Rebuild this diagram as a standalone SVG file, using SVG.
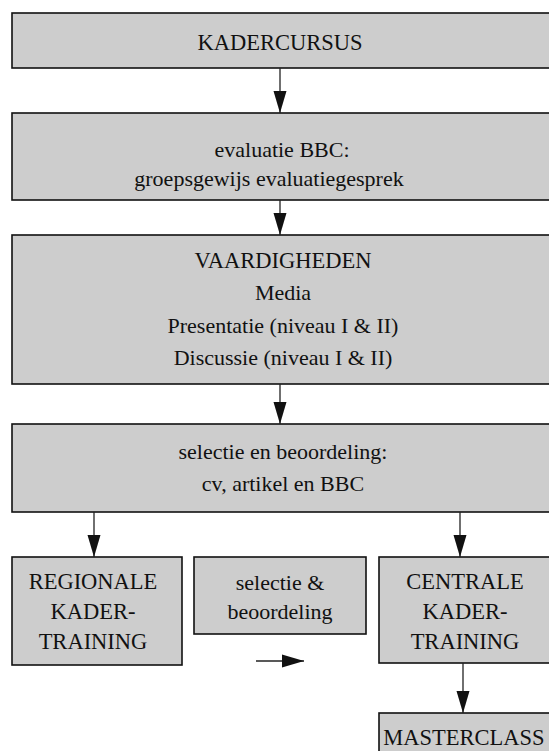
<svg xmlns="http://www.w3.org/2000/svg" width="549" height="751" viewBox="0 0 549 751">
<style>
.box{fill:#cdcdcd;stroke:#111;stroke-width:1.6}
.t{font-family:"Liberation Serif","Times New Roman",serif;font-size:22px;fill:#111;text-anchor:middle}
.k{font-size:22.5px}
.c{stroke:#222;stroke-width:1.3;fill:none;marker-end:url(#ah)}
</style>
<defs>
<marker id="ah" markerUnits="userSpaceOnUse" markerWidth="22" markerHeight="14" refX="22" refY="7" orient="auto">
<path d="M0,0.5 L22,7 L0,13.5 Z" fill="#111"/>
</marker>
</defs>
<rect width="549" height="751" fill="#fff"/>
<g id="kadercursus">
<rect class="box" x="12" y="13" width="545" height="55"/>
<text class="t k" x="280" y="50" font-family="Liberation Serif, serif">KADERCURSUS</text>
</g>
<g id="evaluatie">
<rect class="box" x="12" y="113" width="545" height="87"/>
<text class="t" x="282" y="157" font-family="Liberation Serif, serif">evaluatie BBC:</text>
<text class="t" x="269" y="186" font-family="Liberation Serif, serif" font-size="21.5">groepsgewijs evaluatiegesprek</text>
</g>
<g id="vaardigheden">
<rect class="box" x="12" y="235" width="545" height="149"/>
<text class="t k" x="283" y="268" font-family="Liberation Serif, serif">VAARDIGHEDEN</text>
<text class="t" x="283" y="300" font-family="Liberation Serif, serif">Media</text>
<text class="t" x="283" y="333" font-family="Liberation Serif, serif">Presentatie (niveau I &amp; II)</text>
<text class="t" x="283" y="365" font-family="Liberation Serif, serif">Discussie (niveau I &amp; II)</text>
</g>
<g id="selectie">
<rect class="box" x="12" y="424" width="545" height="88"/>
<text class="t" x="283" y="459" font-family="Liberation Serif, serif">selectie en beoordeling:</text>
<text class="t" x="283" y="491" font-family="Liberation Serif, serif">cv, artikel en BBC</text>
</g>
<g id="regionale">
<rect class="box" x="12" y="557" width="170" height="108"/>
<text class="t k" x="93" y="589" font-family="Liberation Serif, serif">REGIONALE</text>
<text class="t k" x="93" y="619" font-family="Liberation Serif, serif">KADER-</text>
<text class="t k" x="93" y="649" font-family="Liberation Serif, serif">TRAINING</text>
</g>
<g id="selectie-beoordeling">
<rect class="box" x="194" y="557" width="172" height="77"/>
<text class="t" x="280" y="590" font-family="Liberation Serif, serif">selectie &amp;</text>
<text class="t" x="280" y="619" font-family="Liberation Serif, serif">beoordeling</text>
</g>
<g id="centrale">
<rect class="box" x="379" y="557" width="180" height="106"/>
<text class="t k" x="465" y="589" font-family="Liberation Serif, serif">CENTRALE</text>
<text class="t k" x="465" y="619" font-family="Liberation Serif, serif">KADER-</text>
<text class="t k" x="465" y="649" font-family="Liberation Serif, serif">TRAINING</text>
</g>
<g id="masterclass">
<rect class="box" x="379" y="713" width="180" height="50"/>
<text class="t k" x="464" y="745" font-family="Liberation Serif, serif">MASTERCLASS</text>
</g>
<g id="connectors">
<line class="c" x1="280" y1="68" x2="280" y2="113"/>
<line class="c" x1="280" y1="200" x2="280" y2="235"/>
<line class="c" x1="280" y1="384" x2="280" y2="424"/>
<line class="c" x1="94" y1="512" x2="94" y2="557"/>
<line class="c" x1="460" y1="512" x2="460" y2="557"/>
<line class="c" x1="256" y1="661" x2="304" y2="661"/>
<line class="c" x1="463" y1="663" x2="463" y2="713"/>
</g>
</svg>
